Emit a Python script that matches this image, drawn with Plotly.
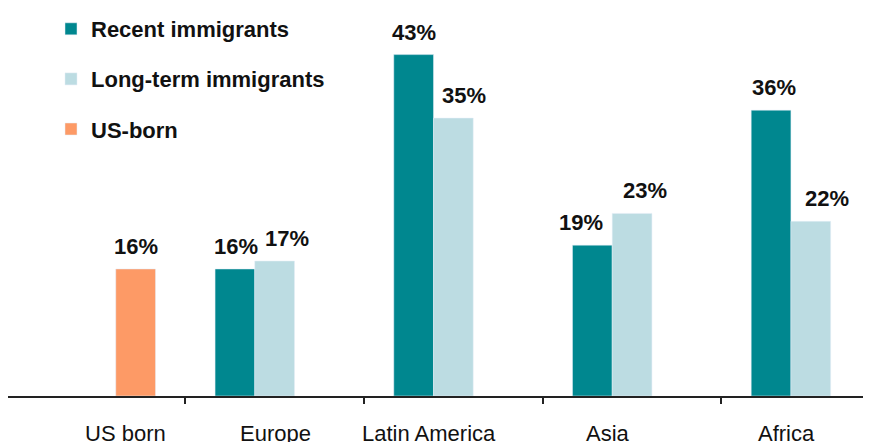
import plotly.graph_objects as go

categories = ["US born", "Europe", "Latin America", "Asia", "Africa"]
recent = [None, 16, 43, 19, 36]
longterm = [None, 17, 35, 23, 22]
usborn = [16, None, None, None, None]

C_RECENT = "#00878F"
C_LONG = "#BCDCE2"
C_US = "#FD9A66"
FONT = "Liberation Sans"

idx = list(range(len(categories)))
slot = 2 / 9  # width of one bar slot in category units

fig = go.Figure()
fig.add_trace(go.Bar(x=idx, y=recent, name="Recent immigrants", marker_color=C_RECENT,
                     width=slot, offset=-1.5 * slot, legendgroup="a"))
fig.add_trace(go.Bar(x=idx, y=longterm, name="Long-term immigrants", marker_color=C_LONG,
                     width=slot, offset=-0.5 * slot, legendgroup="b"))
fig.add_trace(go.Bar(x=idx, y=usborn, name="US-born", marker_color=C_US,
                     width=slot, offset=0.5 * slot, legendgroup="c"))

lab_font = dict(family=FONT, size=22, color="#111111", weight="bold")
annotations = []
# value labels (pixel nudges replicate the hand placement of the original)
rec_shift = [0, 1, 0, -11, 3]
long_shift = [0, 12, 11, 13, 16]
for i in idx:
    if recent[i] is not None:
        annotations.append(dict(x=i - slot, y=recent[i], text=f"{recent[i]}%", showarrow=False,
                                xref="x", yref="y", yanchor="bottom", yshift=8, xshift=rec_shift[i],
                                font=lab_font))
    if longterm[i] is not None:
        annotations.append(dict(x=i, y=longterm[i], text=f"{longterm[i]}%", showarrow=False,
                                xref="x", yref="y", yanchor="bottom", yshift=8, xshift=long_shift[i],
                                font=lab_font))
    if usborn[i] is not None:
        annotations.append(dict(x=i + slot, y=usborn[i], text=f"{usborn[i]}%", showarrow=False,
                                xref="x", yref="y", yanchor="bottom", yshift=8,
                                font=lab_font))

# category labels
cat_shift = [30, 1, -24, -24, -24]
for i, c in enumerate(categories):
    annotations.append(dict(x=i, y=0, text=c, showarrow=False, xref="x", yref="paper",
                            yanchor="top", yshift=-23, xshift=cat_shift[i],
                            font=dict(family=FONT, size=22, color="#111111")))

fig.update_layout(
    width=863, height=434,
    margin=dict(l=0, r=0, t=0, b=46),
    paper_bgcolor="white", plot_bgcolor="white",
    barmode="overlay",
    showlegend=True,
    legend=dict(x=43 / 863, y=1.0, xanchor="left", yanchor="top",
                font=dict(family=FONT, size=22, color="#111111", weight="bold"),
                traceorder="grouped", tracegroupgap=18.5, bgcolor="rgba(0,0,0,0)"),
    xaxis=dict(range=[-0.492, 4.337], showgrid=False, zeroline=False,
               showline=True, linecolor="#222222", linewidth=2,
               tickmode="array", tickvals=[0.5, 1.5, 2.5, 3.5], ticks="outside",
               ticklen=6, tickwidth=2, tickcolor="#222222", showticklabels=False),
    yaxis=dict(range=[0, 48.87], visible=False),
    annotations=annotations,
)

fig.write_html("out.html")
